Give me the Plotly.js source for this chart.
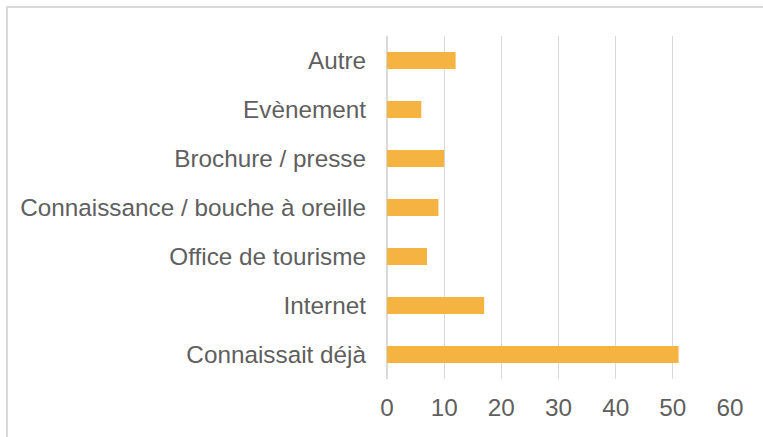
<!DOCTYPE html>
<html>
<head>
<meta charset="utf-8">
<script src="https://cdn.plot.ly/plotly-3.0.1.min.js"></script>
<style>
  html, body { margin: 0; padding: 0; background: #ffffff; }
  #frame {
    position: absolute; left: 6px; top: 6px; width: 800px; height: 480px;
    border-top: 2px solid #d9d9d9; border-left: 2px solid #d9d9d9;
  }
  #chart { position: absolute; left: 0; top: 0; width: 763px; height: 437px; }
</style>
</head>
<body>
<div id="frame"></div>
<div id="chart"></div>
<script>
// sources, top to bottom
var sources = ['Autre', 'Evènement', 'Brochure / presse', 'Connaissance / bouche à oreille',
               'Office de tourisme', 'Internet', 'Connaissait déjà'];
var counts = [12, 6, 10, 9, 7, 17, 51];
var xTicks = [0, 10, 20, 30, 40, 50, 60];

var trace = {
    type: 'bar',
    orientation: 'h',
    y: sources,
    x: counts,
    marker: { color: '#f5b342', line: { width: 0 } },
    hoverinfo: 'none'
};

var layout = {
    width: 763,
    height: 437,
    paper_bgcolor: 'rgba(0,0,0,0)',
    plot_bgcolor: 'rgba(0,0,0,0)',
    margin: { l: 387, r: 33, t: 36, b: 58 },
    font: { family: 'Liberation Sans, Arial, sans-serif', size: 24.3, color: '#5f5f5f' },
    bargap: 0.65,
    showlegend: false,
    xaxis: {
        range: [0, 60],
        tickvals: xTicks,
        ticktext: xTicks.map(String),
        showgrid: true,
        gridcolor: '#d9d9d9',
        gridwidth: 1.3,
        zeroline: true,
        zerolinecolor: '#d9d9d9',
        zerolinewidth: 1.3,
        showline: false,
        ticks: '',
        ticklabelstandoff: 12,
        fixedrange: true
    },
    yaxis: {
        autorange: 'reversed',
        showgrid: false,
        zeroline: false,
        showline: false,
        ticks: '',
        ticklabelstandoff: 20,
        fixedrange: true
    }
};

Plotly.newPlot('chart', [trace], layout, { displayModeBar: false, staticPlot: true });
</script>
</body>
</html>
